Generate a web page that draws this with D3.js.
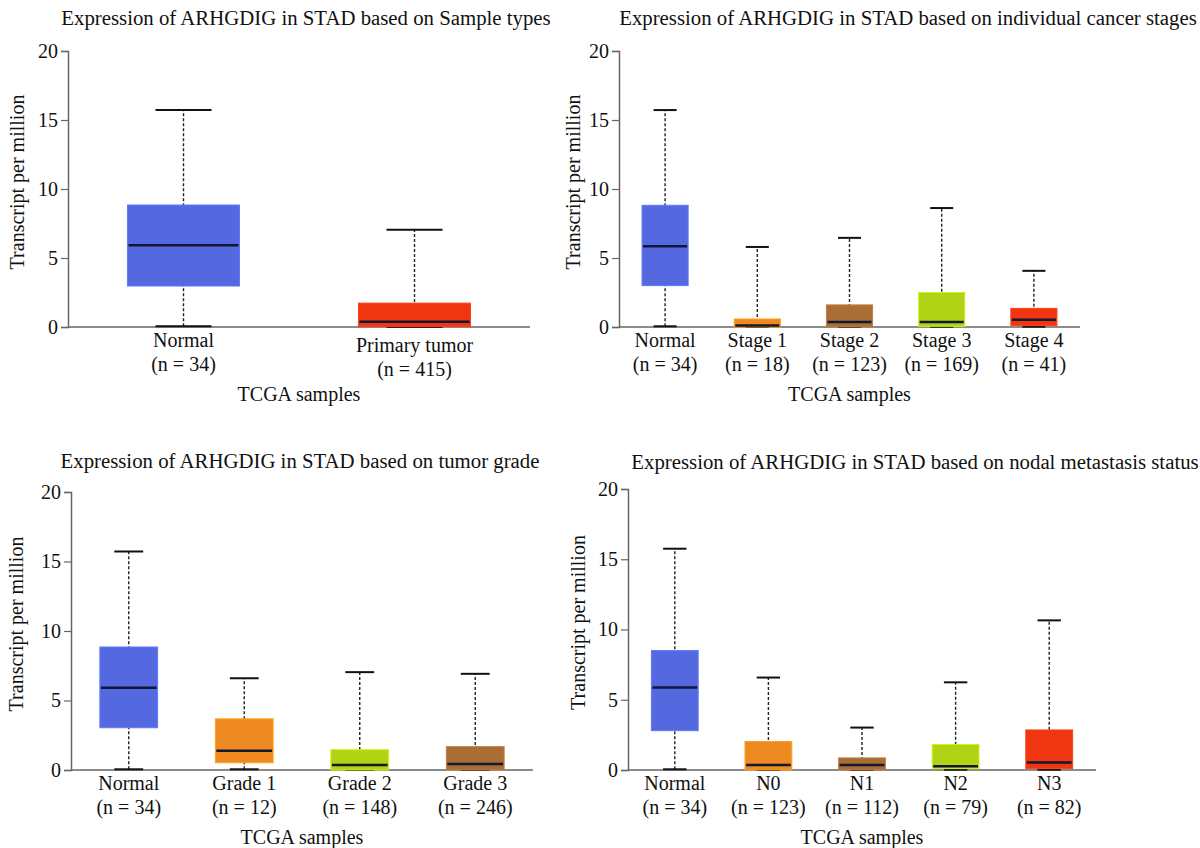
<!DOCTYPE html>
<html>
<head>
<meta charset="utf-8">
<script src="https://cdn.jsdelivr.net/npm/d3@7"></script>
<style>
  body { margin: 0; background: #fff; }
  svg { display: block; }
  text { font-family: "Liberation Serif", "DejaVu Serif", serif; fill: #111; }
</style>
</head>
<body>
<div id="chart"></div>
<script>
// colours used by the boxes
var BLUE = '#5468e0', ORANGE = '#ee8a1f', BROWN = '#a96d36', LIME = '#b0d413', RED = '#ef3611';

// panel A: sample types
var typeCats = ['Normal', 'Primary tumor'];
var typeN = [34, 415];
var typeMax = [15.72, 7.05];
var typeQ3 = [8.84, 1.73];
var typeMed = [5.92, 0.38];
var typeQ1 = [2.97, 0.02];
var typeMin = [0.05, 0.0];
var typeColors = [BLUE, RED];

// panel B: individual cancer stages
var stageCats = ['Normal', 'Stage 1', 'Stage 2', 'Stage 3', 'Stage 4'];
var stageN = [34, 18, 123, 169, 41];
var stageMax = [15.72, 5.8, 6.46, 8.62, 4.07];
var stageQ3 = [8.82, 0.58, 1.6, 2.5, 1.35];
var stageMed = [5.86, 0.1, 0.36, 0.36, 0.52];
var stageQ1 = [3.0, 0.0, 0.0, 0.05, 0.1];
var stageMin = [0.05, 0.0, 0.0, 0.02, 0.02];
var stageColors = [BLUE, ORANGE, BROWN, LIME, RED];

// panel C: tumor grade
var gradeCats = ['Normal', 'Grade 1', 'Grade 2', 'Grade 3'];
var gradeN = [34, 12, 148, 246];
var gradeMax = [15.72, 6.6, 7.04, 6.92];
var gradeQ3 = [8.85, 3.68, 1.46, 1.68];
var gradeMed = [5.92, 1.38, 0.36, 0.43];
var gradeQ1 = [3.04, 0.52, 0.0, 0.0];
var gradeMin = [0.05, 0.05, 0.0, 0.0];
var gradeColors = [BLUE, ORANGE, LIME, BROWN];

// panel D: nodal metastasis status
var nodalCats = ['Normal', 'N0', 'N1', 'N2', 'N3'];
var nodalN = [34, 123, 112, 79, 82];
var nodalMax = [15.75, 6.58, 3.02, 6.24, 10.65];
var nodalQ3 = [8.5, 2.03, 0.86, 1.82, 2.85];
var nodalMed = [5.87, 0.36, 0.36, 0.27, 0.54];
var nodalQ1 = [2.8, 0.0, 0.0, 0.1, 0.1];
var nodalMin = [0.05, 0.0, 0.0, 0.02, 0.02];
var nodalColors = [BLUE, ORANGE, BROWN, LIME, RED];

var yTicks = [0, 5, 10, 15, 20];

var svg = d3.select('#chart').append('svg')
    .attr('width', 1200)
    .attr('height', 848)
    .attr('font-family', '"Liberation Serif", serif');

function panel(opt) {
    var g = svg.append('g');

    var x = d3.scaleBand()
        .domain(opt.cats)
        .range([opt.left, opt.right])
        .paddingInner(opt.pad)
        .paddingOuter(opt.pad / 2);

    var y = d3.scaleLinear()
        .domain([0, 20])
        .range([opt.bottom, opt.top]);

    var rows = opt.cats.map(function(c, i) {
        return {cat: c, n: opt.n[i], max: opt.max[i], q3: opt.q3[i], med: opt.med[i],
                q1: opt.q1[i], min: opt.min[i], color: opt.colors[i], i: i};
    });

    // title
    g.append('text')
        .attr('x', opt.titleX)
        .attr('y', opt.titleY)
        .attr('text-anchor', 'middle')
        .attr('font-size', '20.8px')
        .text(opt.title);

    // y axis
    var yAxis = g.append('g')
        .attr('transform', 'translate(' + opt.left + ',0)')
        .call(d3.axisLeft(y).tickValues(yTicks).tickSize(7).tickPadding(3));
    yAxis.select('.domain').attr('stroke', '#666').attr('stroke-width', 1.5);
    yAxis.selectAll('.tick line').attr('stroke', '#666').attr('stroke-width', 1.2);
    yAxis.selectAll('.tick text')
        .attr('font-size', '20px')
        .attr('fill', '#111');

    // x axis baseline
    g.append('line')
        .attr('x1', opt.left).attr('x2', opt.right)
        .attr('y1', y(0)).attr('y2', y(0))
        .attr('stroke', '#666')
        .attr('stroke-width', 1.5);

    var bw = x.bandwidth();

    var box = g.selectAll('.box')
        .data(rows)
        .enter()
        .append('g')
        .attr('class', 'box');

    // whisker (dashed)
    box.append('line')
        .attr('x1', function(d) { return x(d.cat) + bw / 2; })
        .attr('x2', function(d) { return x(d.cat) + bw / 2; })
        .attr('y1', function(d) { return y(d.min); })
        .attr('y2', function(d) { return y(d.max); })
        .attr('stroke', '#222')
        .attr('stroke-width', 1.4)
        .attr('stroke-dasharray', '3,2');

    // caps
    ['max', 'min'].forEach(function(k) {
        box.append('line')
            .attr('x1', function(d) { return x(d.cat) + bw / 4; })
            .attr('x2', function(d) { return x(d.cat) + bw * 3 / 4; })
            .attr('y1', function(d) { return y(d[k]); })
            .attr('y2', function(d) { return y(d[k]); })
            .attr('stroke', '#111')
            .attr('stroke-width', 2);
    });

    // box
    box.append('rect')
        .attr('x', function(d) { return x(d.cat); })
        .attr('width', bw)
        .attr('y', function(d) { return y(d.q3); })
        .attr('height', function(d) { return y(d.q1) - y(d.q3); })
        .attr('fill', function(d) { return d.color; })
        .attr('stroke', function(d) { return d3.color(d.color).brighter(0.4); })
        .attr('stroke-width', 1);

    // median
    box.append('line')
        .attr('x1', function(d) { return x(d.cat) + 1; })
        .attr('x2', function(d) { return x(d.cat) + bw - 1; })
        .attr('y1', function(d) { return y(d.med); })
        .attr('y2', function(d) { return y(d.med); })
        .attr('stroke', '#111833')
        .attr('stroke-width', 2.5);

    // category labels
    var lab = box.append('text')
        .attr('text-anchor', 'middle')
        .attr('font-size', '20px')
        .attr('transform', function(d) {
            var off = (opt.shift && d.i > 0) ? opt.shift : 0;
            return 'translate(' + (x(d.cat) + bw / 2) + ',' + (y(0) + off) + ')';
        });
    lab.append('tspan').attr('x', 0).attr('y', 20).text(function(d) { return d.cat; });
    lab.append('tspan').attr('x', 0).attr('y', 44).text(function(d) { return '(n = ' + d.n + ')'; });

    // axis titles
    g.append('text')
        .attr('x', (opt.left + opt.right) / 2)
        .attr('y', y(0) + 74)
        .attr('text-anchor', 'middle')
        .attr('font-size', '20px')
        .text('TCGA samples');

    g.append('text')
        .attr('transform', 'translate(' + opt.ylabX + ',' + ((opt.top + opt.bottom) / 2 - 7) + ') rotate(-90)')
        .attr('text-anchor', 'middle')
        .attr('dy', '0.35em')
        .attr('font-size', '20px')
        .text('Transcript per million');
}

panel({
    title: 'Expression of ARHGDIG in STAD based on Sample types',
    titleX: 306, titleY: 25,
    cats: typeCats, n: typeN, max: typeMax, q3: typeQ3, med: typeMed, q1: typeQ1, min: typeMin,
    colors: typeColors,
    left: 68, right: 530, top: 51, bottom: 327, pad: 0.515, shift: 5, ylabX: 17
});

panel({
    title: 'Expression of ARHGDIG in STAD based on individual cancer stages',
    titleX: 908, titleY: 25,
    cats: stageCats, n: stageN, max: stageMax, q3: stageQ3, med: stageMed, q1: stageQ1, min: stageMin,
    colors: stageColors,
    left: 619, right: 1080, top: 51, bottom: 327, pad: 0.5, ylabX: 573
});

panel({
    title: 'Expression of ARHGDIG in STAD based on tumor grade',
    titleX: 300, titleY: 468,
    cats: gradeCats, n: gradeN, max: gradeMax, q3: gradeQ3, med: gradeMed, q1: gradeQ1, min: gradeMin,
    colors: gradeColors,
    left: 71, right: 533, top: 492, bottom: 770, pad: 0.5, ylabX: 16
});

panel({
    title: 'Expression of ARHGDIG in STAD based on nodal metastasis status',
    titleX: 915, titleY: 469,
    cats: nodalCats, n: nodalN, max: nodalMax, q3: nodalQ3, med: nodalMed, q1: nodalQ1, min: nodalMin,
    colors: nodalColors,
    left: 628, right: 1096, top: 489, bottom: 770, pad: 0.5, ylabX: 578
});
</script>
</body>
</html>
